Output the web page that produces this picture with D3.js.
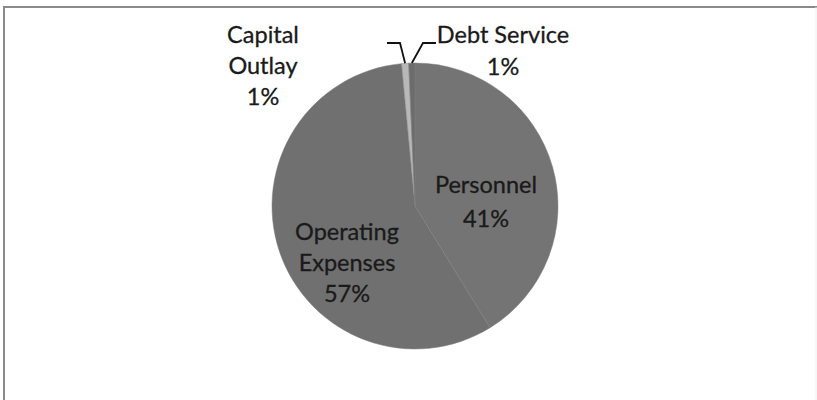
<!DOCTYPE html>
<html>
<head>
<meta charset="utf-8">
<script src="https://cdn.jsdelivr.net/npm/d3@7"></script>
<style>
  body { margin: 0; background: #fff; }
  svg { display: block; }
  text { font-family: Lato, "Open Sans", sans-serif; font-size: 23.5px; fill: #1a1a1a; stroke: #1a1a1a; stroke-width: 0.3px; }
</style>
</head>
<body>
<svg></svg>
<script>
var categories = ["Personnel", "Operating Expenses", "Capital Outlay", "Debt Service"],
    values = [41.2, 57.3, 0.8, 0.7],
    labelLines = [["Personnel", "41%"], ["Operating", "Expenses", "57%"], ["Capital", "Outlay", "1%"], ["Debt Service", "1%"]],
    sliceColors = ["#747474", "#707070", "#b8b8b8", "#6c6c6c"];

var width = 817,
    height = 400,
    cx = 415, cy = 206, radius = 143,
    svg = d3.select("svg").attr("width", width).attr("height", height);

// frame (scan shows top and left edges only)
svg.append("line").attr("x1", 3).attr("x2", 817).attr("y1", 7).attr("y2", 7)
    .style("stroke", "#8a8a8a").style("stroke-width", 2);
svg.append("line").attr("x1", 4).attr("x2", 4).attr("y1", 7).attr("y2", 400)
    .style("stroke", "#8a8a8a").style("stroke-width", 2);
svg.append("line").attr("x1", 816).attr("x2", 816).attr("y1", 7).attr("y2", 400)
    .style("stroke", "#eeeeee").style("stroke-width", 1);

var pie = d3.pie().sort(null).value(function(d) { return d; }),
    arc = d3.arc().innerRadius(0).outerRadius(radius),
    arcs = pie(values);

var g = svg.append("g").attr("transform", "translate(" + cx + "," + cy + ")");

g.selectAll("path")
    .data(arcs)
    .enter().append("path")
    .attr("d", arc)
    .style("fill", function(d, i) { return sliceColors[i]; })
    .style("stroke", "#7e7e7e")
    .style("stroke-width", 0.5);

// labels: inside for big slices, outside with leaders for the thin ones
var labelPos = [
    {x: 486, y: 193, dy: 34},
    {x: 347, y: 240, dy: 31},
    {x: 263, y: 43, dy: 31},
    {x: 503, y: 43, dy: 32}
];

labelLines.forEach(function(lines, i) {
    var p = labelPos[i];
    var t = svg.append("text").attr("text-anchor", "middle");
    lines.forEach(function(s, j) {
        t.append("tspan").attr("x", p.x).attr("y", p.y + j * p.dy).text(s);
    });
});

// leader lines for the two 1% slices
var outer = d3.arc().innerRadius(radius).outerRadius(radius);
var cap = outer.centroid(arcs[2]), debt = outer.centroid(arcs[3]);
svg.append("path")
    .attr("d", "M387,43 L400,43 L" + (cx + cap[0]) + "," + (cy + cap[1]))
    .style("fill", "none").style("stroke", "#111").style("stroke-width", 1.8);
svg.append("path")
    .attr("d", "M436,43 L423,43 L" + (cx + debt[0]) + "," + (cy + debt[1]))
    .style("fill", "none").style("stroke", "#111").style("stroke-width", 1.8);
</script>
</body>
</html>
